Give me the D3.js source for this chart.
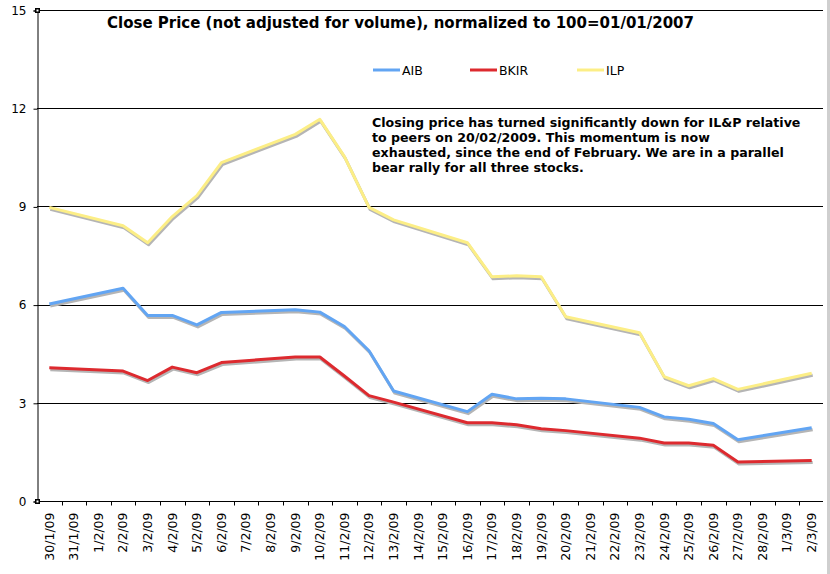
<!DOCTYPE html>
<html>
<head>
<meta charset="utf-8">
<script src="https://cdn.jsdelivr.net/npm/d3@7"></script>
<style>
  body { margin: 0; background: #fff; }
  svg { display: block; }
</style>
</head>
<body>
<div id="chart"></div>
<script>
const dates = ['30/1/09', '31/1/09', '1/2/09', '2/2/09', '3/2/09', '4/2/09', '5/2/09', '6/2/09',
  '7/2/09', '8/2/09', '9/2/09', '10/2/09', '11/2/09', '12/2/09', '13/2/09', '14/2/09', '15/2/09',
  '16/2/09', '17/2/09', '18/2/09', '19/2/09', '20/2/09', '21/2/09', '22/2/09', '23/2/09', '24/2/09',
  '25/2/09', '26/2/09', '27/2/09', '28/2/09', '1/3/09', '2/3/09'];

// null = weekend, the line just runs straight across
const aib = [6.02, null, null, 6.50, 5.67, 5.67, 5.38, 5.76, null, null, 5.84, 5.77, 5.33, 4.59, 3.36,
  null, null, 2.73, 3.26, 3.12, 3.14, 3.12, null, null, 2.86, 2.57, 2.50, 2.37, 1.87, null, null, 2.24];
const bkir = [4.07, null, null, 3.97, 3.68, 4.09, 3.92, 4.23, null, null, 4.40, 4.40, 3.82, 3.22, 3.02,
  null, null, 2.39, 2.39, 2.33, 2.21, 2.15, null, null, 1.92, 1.77, 1.77, 1.70, 1.19, null, null, 1.24];
const ilp = [8.97, null, null, 8.41, 7.89, 8.69, 9.33, 10.34, null, null, 11.20, 11.66, 10.52, 8.97, 8.59,
  null, null, 7.89, 6.85, 6.88, 6.85, 5.63, null, null, 5.14, 3.80, 3.52, 3.74, 3.41, null, null, 3.90];

const yTicks = [0, 3, 6, 9, 12, 15];

const seriesNames = ['AIB', 'BKIR', 'ILP'];
const seriesColors = ['#62a5f3', '#dd2a2f', '#fcee86'];
const seriesValues = [aib, bkir, ilp];

const title = 'Close Price (not adjusted for volume), normalized to 100=01/01/2007';
const note = [
  'Closing price has turned significantly down for IL&P relative',
  'to peers on 20/02/2009. This momentum is now',
  'exhausted, since the end of February. We are in a parallel',
  'bear rally for all three stocks.'
];

const width = 830, height = 574;
const font = '"DejaVu Sans", Verdana, sans-serif';

const svg = d3.select('#chart').append('svg')
  .attr('width', width)
  .attr('height', height);

const x = d3.scaleBand().domain(dates).range([37, 824]).padding(0);
const y = d3.scaleLinear().domain([0, 15]).range([501, 10]);

// gridlines
svg.append('g')
  .selectAll('line')
  .data(yTicks.filter(d => d > 0))
  .join('line')
  .attr('x1', 37).attr('x2', 823)
  .attr('y1', d => Math.round(y(d)) + 0.5).attr('y2', d => Math.round(y(d)) + 0.5)
  .attr('stroke', '#000').attr('stroke-width', 1);

// y axis
const yAxis = svg.append('g')
  .attr('transform', 'translate(37.5,0.5)')
  .call(d3.axisLeft(y).tickValues(yTicks).tickSize(4).tickPadding(7));
yAxis.select('.domain').attr('stroke', '#000');
yAxis.selectAll('text')
  .style('font-family', font).style('font-size', '12px').attr('fill', '#000');

// x axis, labels centred in the band, ticks at band edges
const xAxis = svg.append('g')
  .attr('transform', `translate(0,${Math.round(y(0)) + 0.5})`)
  .call(d3.axisBottom(x).tickSize(0).tickPadding(0));
xAxis.select('.domain').attr('stroke', '#000').attr('d', 'M37,0H823');
xAxis.selectAll('text')
  .style('font-family', font).style('font-size', '12.5px').attr('fill', '#000')
  .attr('text-anchor', 'end')
  .attr('dy', '0.35em')
  .attr('transform', 'translate(0,11) rotate(-90)');
xAxis.append('g')
  .selectAll('line')
  .data(dates.slice(1))
  .join('line')
  .attr('x1', d => Math.round(x(d)) + 0.5).attr('x2', d => Math.round(x(d)) + 0.5)
  .attr('y1', 0).attr('y2', 4)
  .attr('stroke', '#000');

// little handles at the axis ends
[15, 0].forEach(v => {
  svg.append('rect')
    .attr('x', 35).attr('y', y(v) - 2)
    .attr('width', 5).attr('height', 5)
    .attr('fill', '#000');
  svg.append('rect')
    .attr('x', 36.5).attr('y', y(v) - 0.5)
    .attr('width', 2).attr('height', 2)
    .attr('fill', '#fff');
});

// lines with a soft gray shadow
const line = d3.line()
  .x(d => x(d.date) + x.bandwidth() / 2)
  .y(d => y(d.value));

seriesValues.forEach((vals, i) => {
  const pts = dates.map((date, j) => ({ date, value: vals[j] })).filter(d => d.value != null);
  svg.append('path')
    .datum(pts)
    .attr('d', line)
    .attr('transform', 'translate(1,2)')
    .attr('fill', 'none')
    .attr('stroke', '#b5b5b5')
    .attr('stroke-width', 3)
    .attr('stroke-linejoin', 'round');
  svg.append('path')
    .datum(pts)
    .attr('d', line)
    .attr('fill', 'none')
    .attr('stroke', seriesColors[i])
    .attr('stroke-width', 3)
    .attr('stroke-linejoin', 'round');
});

// title
svg.append('text')
  .attr('x', 107).attr('y', 28)
  .style('font-family', font).style('font-size', '15px').style('font-weight', 'bold')
  .text(title);

// legend
const legendX = [373, 470, 577];
seriesNames.forEach((name, i) => {
  const g = svg.append('g').attr('transform', `translate(${legendX[i]},70)`);
  g.append('line')
    .attr('x1', 0).attr('x2', 27).attr('y1', 0).attr('y2', 0)
    .attr('stroke', seriesColors[i]).attr('stroke-width', 3);
  g.append('text')
    .attr('x', 29).attr('y', 4.5)
    .style('font-family', font).style('font-size', '12.5px')
    .text(name);
});

// annotation
svg.append('text')
  .attr('x', 372).attr('y', 127)
  .style('font-family', font).style('font-size', '12.6px').style('font-weight', 'bold')
  .selectAll('tspan')
  .data(note)
  .join('tspan')
  .attr('x', 372)
  .attr('dy', (d, i) => i === 0 ? 0 : 15)
  .text(d => d);

// window edge strip on the right
svg.append('rect')
  .attr('x', 827).attr('y', 0).attr('width', 3).attr('height', height)
  .attr('fill', '#cfcfcf');
</script>
</body>
</html>
